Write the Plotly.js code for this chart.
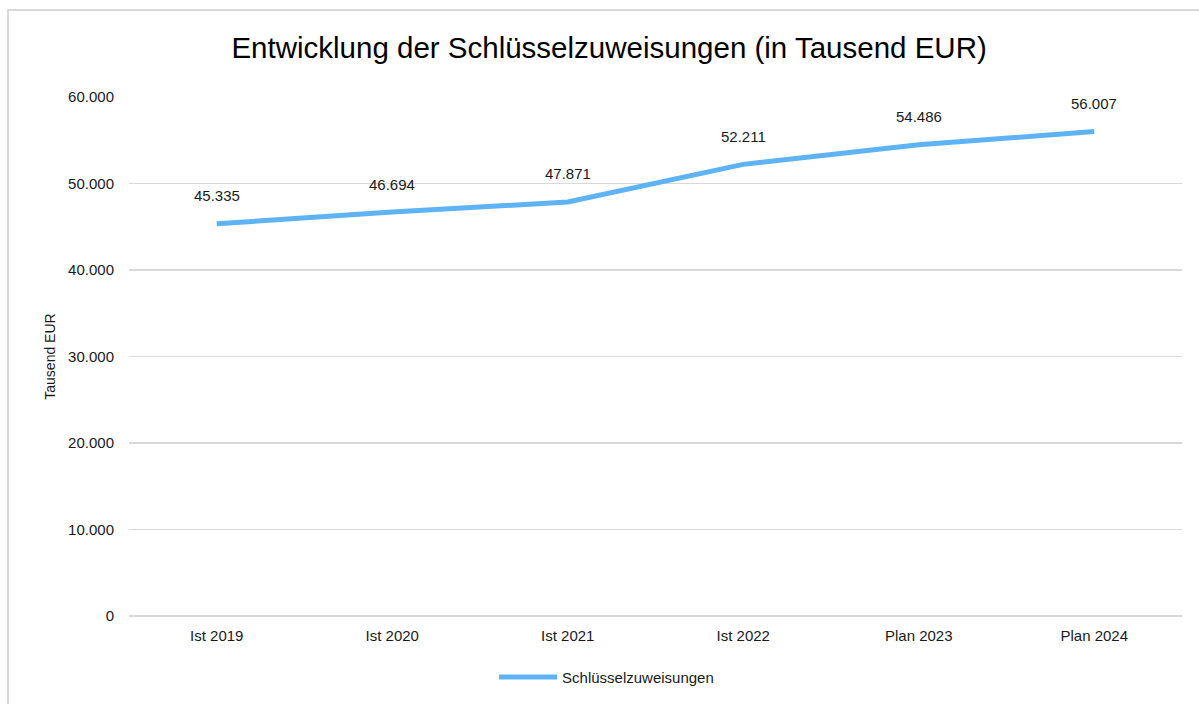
<!DOCTYPE html>
<html>
<head>
<meta charset="utf-8">
<script src="https://cdn.plot.ly/plotly-3.0.1.min.js"></script>
<style>
  html, body { margin: 0; padding: 0; background: #fff; overflow: hidden; }
  #frame {
    position: absolute; left: 7px; top: 9px; width: 1300px; height: 800px;
    border-left: 2px solid #d9d9d9; border-top: 2px solid #d9d9d9;
  }
  #chart { position: absolute; left: 0; top: 0; width: 1199px; height: 704px; }
</style>
</head>
<body>
<div id="frame"></div>
<div id="chart"></div>
<script>
const categories = ["Ist 2019", "Ist 2020", "Ist 2021", "Ist 2022", "Plan 2023", "Plan 2024"];
const values = [45335, 46694, 47871, 52211, 54486, 56007];
const seriesName = "Schlüsselzuweisungen";
const yTicks = [0, 10000, 20000, 30000, 40000, 50000, 60000];

const FONT = "Liberation Sans, Arial, sans-serif";
const LINE_COLOR = "#5db3f3";

// German number format: 45.335
const fmt = v => String(v).replace(/\B(?=(\d{3})+(?!\d))/g, ".");

const trace = {
  x: categories,
  y: values,
  name: seriesName,
  type: "scatter",
  mode: "lines",
  line: { color: LINE_COLOR, width: 5 },
  hoverinfo: "skip",
};

// value labels above every point
const labels = categories.map((c, i) => ({
  x: c,
  y: values[i],
  text: fmt(values[i]),
  showarrow: false,
  yshift: 28,
  font: { family: FONT, size: 15, color: "#1a1a1a" },
}));

const layout = {
  width: 1199,
  height: 704,
  paper_bgcolor: "rgba(0,0,0,0)",
  plot_bgcolor: "rgba(0,0,0,0)",
  separators: ",.",
  font: { family: FONT, color: "#1a1a1a" },
  margin: { l: 129, r: 17, t: 96.5, b: 87.5, autoexpand: false },
  title: {
    text: "Entwicklung der Schlüsselzuweisungen (in Tausend EUR)",
    font: { family: FONT, size: 29.5, color: "#000" },
    x: 0.508, xanchor: "center",
    y: 1 - 48 / 704, yanchor: "middle", yref: "container",
  },
  xaxis: {
    type: "category",
    range: [-0.5, 5.5],
    showgrid: false,
    showline: false,
    zeroline: false,
    ticks: "outside",
    ticklen: 6,
    tickcolor: "rgba(0,0,0,0)",
    tickfont: { family: FONT, size: 15, color: "#1a1a1a" },
    fixedrange: true,
  },
  yaxis: {
    range: [0, 60000],
    tickvals: yTicks,
    ticktext: yTicks.map(fmt),
    showgrid: true,
    gridcolor: "#d9d9d9",
    gridwidth: 1.5,
    zeroline: true,
    zerolinecolor: "#d9d9d9",
    zerolinewidth: 1.5,
    showline: false,
    ticks: "outside",
    ticklen: 11,
    tickcolor: "rgba(0,0,0,0)",
    tickfont: { family: FONT, size: 15, color: "#1a1a1a" },
    title: {
      text: "Tausend EUR",
      font: { family: FONT, size: 14, color: "#1a1a1a" },
      standoff: 9,
    },
    fixedrange: true,
  },
  showlegend: true,
  legend: {
    orientation: "h",
    x: 0.4535, xanchor: "center",
    y: -0.118, yanchor: "middle",
    itemwidth: 58,
    font: { family: FONT, size: 15, color: "#1a1a1a" },
    bgcolor: "rgba(0,0,0,0)",
  },
  annotations: labels,
};

Plotly.newPlot("chart", [trace], layout, { staticPlot: true, displayModeBar: false });
</script>
</body>
</html>
